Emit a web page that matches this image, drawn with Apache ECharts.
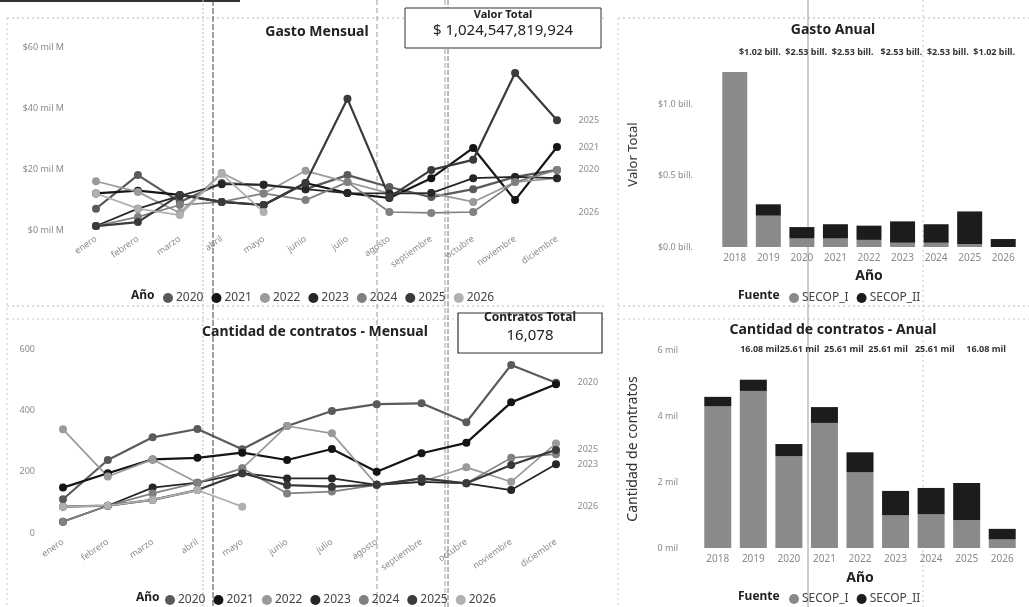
<!DOCTYPE html>
<html>
<head>
<meta charset="utf-8">
<script src="https://cdn.jsdelivr.net/npm/echarts@6/dist/echarts.min.js"></script>
<style>
  html, body { margin: 0; padding: 0; background: #fff; }
  #chart { width: 1029px; height: 607px; }
</style>
</head>
<body>
<div id="chart"></div>
<script>
// categorías
const meses = ['enero', 'febrero', 'marzo', 'abril', 'mayo', 'junio', 'julio', 'agosto', 'septiembre', 'octubre', 'noviembre', 'diciembre']
const anios = ['2020', '2021', '2022', '2023', '2024', '2025', '2026']
const aniosAnual = ['2018', '2019', '2020', '2021', '2022', '2023', '2024', '2025', '2026']
const fuentes = ['SECOP_I', 'SECOP_II']

// Gasto mensual (mil M)
const gasto2020 = [7, 18, 9.2, 15.4, 14.8, 13.4, 18, 14.1, 10.8, 13.4, 17.4, 19.7]
const gasto2021 = [12, 12.9, 11.5, 9.2, 8.2, 15.4, 12.1, 10.5, 17, 26.9, 9.8, 27.2]
const gasto2022 = [16, 12.5, 5.6, 18.7, 12, 19.4, 15.7, 12, 12.1, 9.2, 15.7, 17]
const gasto2023 = [1.3, 7, 11.2, 15, 14.8, 13.4, 12.1, 12, 12.1, 17, 17.4, 17]
const gasto2024 = [1.3, 4.3, 8.2, 9.2, 12, 9.8, 15.7, 5.9, 5.6, 5.9, 15.7, 19.7]
const gasto2025 = [1.3, 2.6, 11.5, 9.2, 8.2, 15.4, 43, 10.8, 19.7, 23, 51.5, 36]
const gasto2026 = [12, 7, 4.9, 18.4, 5.9]

// Cantidad de contratos mensual
const contratos2020 = [110, 238, 312, 339, 273, 349, 398, 420, 423, 361, 548, 490]
const contratos2021 = [148, 195, 240, 245, 262, 238, 274, 200, 260, 294, 426, 485]
const contratos2022 = [338, 184, 240, 164, 211, 349, 325, 157, 167, 214, 167, 292]
const contratos2023 = [37, 89, 148, 164, 195, 178, 178, 157, 167, 162, 140, 224]
const contratos2024 = [37, 89, 129, 164, 211, 129, 135, 157, 178, 162, 245, 257]
const contratos2025 = [86, 89, 108, 140, 195, 156, 151, 157, 178, 162, 222, 271]
const contratos2026 = [86, 89, 108, 140, 86]

// Gasto anual (bill.)
const gastoSecop1 = [1.23, 0.22, 0.06, 0.06, 0.05, 0.03, 0.03, 0.02, 0]
const gastoSecop2 = [0, 0.08, 0.08, 0.10, 0.10, 0.15, 0.13, 0.23, 0.056]

// Contratos anual
const contratosSecop1 = [4300, 4760, 2780, 3790, 2300, 990, 1020, 840, 260]
const contratosSecop2 = [280, 340, 370, 480, 600, 740, 800, 1130, 320]

// textos
const valorTotal = '$ 1,024,547,819,924'
const contratosTotal = '16,078'
const gastoTotales = '$1.02 bill.  $2.53 bill.  $2.53 bill.   $2.53 bill.  $2.53 bill.  $1.02 bill.'
const contratosTotales = '16.08 mil25.61 mil  25.61 mil  25.61 mil   25.61 mil     16.08 mil'
const gastoEtiquetas = ['2020', '2021', '2025', '2026']
const contratosEtiquetas = ['2020', '2023', '2025', '2026']

const gastoMensual = [gasto2020, gasto2021, gasto2022, gasto2023, gasto2024, gasto2025, gasto2026]
const contratosMensual = [contratos2020, contratos2021, contratos2022, contratos2023, contratos2024, contratos2025, contratos2026]

const FONT = 'Noto Sans'
const YEAR_COLORS = ['#5a5a5a', '#151515', '#9a9a9a', '#262626', '#808080', '#3a3a3a', '#b0b0b0']
const FUENTE_COLORS = ['#8a8a8a', '#1c1c1c']
const LABEL_GRAY = '#8a8a8a'

const chart = echarts.init(document.getElementById('chart'), null, { renderer: 'canvas' })

const lineSeries = (valores, axis, etiquetas) => anios.map((anio, i) => {
  const data = valores[i]
  const s = {
    name: anio,
    type: 'line',
    xAxisIndex: axis,
    yAxisIndex: axis,
    data: data,
    symbol: 'circle',
    symbolSize: 8,
    color: YEAR_COLORS[i],
    lineStyle: { width: i === 1 || i === 5 || i === 0 ? 2.2 : 1.7 },
    animation: false,
  }
  if (etiquetas.includes(anio)) {
    s.markPoint = {
      symbol: 'circle',
      symbolSize: 1,
      itemStyle: { color: 'rgba(0,0,0,0)' },
      label: { show: true, position: 'right', distance: 21, formatter: anio, color: LABEL_GRAY, fontSize: 9, fontFamily: FONT },
      data: [{ coord: [meses[11], data[data.length - 1]] }],
    }
  }
  return s
})

const barSeries = (v1, v2, axis, width) => [
  { name: fuentes[0], type: 'bar', stack: 'f' + axis, xAxisIndex: axis, yAxisIndex: axis, data: v1, barWidth: width, color: FUENTE_COLORS[0], animation: false },
  { name: fuentes[1], type: 'bar', stack: 'f' + axis, xAxisIndex: axis, yAxisIndex: axis, data: v2, barWidth: width, color: FUENTE_COLORS[1], animation: false },
]

const monthAxis = (grid) => ({
  type: 'category', gridIndex: grid, data: meses, boundaryGap: false,
  axisLine: { show: false }, axisTick: { show: false },
  axisLabel: { rotate: 35, color: LABEL_GRAY, fontSize: 9, fontFamily: FONT, margin: 8, interval: 0 },
})

const yearAxis = (grid, nameGap) => ({
  type: 'category', gridIndex: grid, data: aniosAnual,
  name: 'Año', nameLocation: 'middle', nameGap: nameGap,
  nameTextStyle: { fontSize: 14, fontWeight: 'bold', color: '#222', fontFamily: FONT },
  axisLine: { show: false }, axisTick: { show: false },
  axisLabel: { color: LABEL_GRAY, fontSize: 10, fontFamily: FONT, margin: 6 },
})

const legendBase = {
  icon: 'circle', itemWidth: 10, itemHeight: 10, itemGap: 8,
  textStyle: { fontSize: 12, color: '#444', fontFamily: FONT, padding: [0, 0, 0, -2] },
}

const dotted = (x1, y1, x2, y2, color, dash, w) => ({
  type: 'line', silent: true,
  shape: { x1, y1, x2, y2 },
  style: { stroke: color, lineWidth: w || 1, lineDash: dash },
})

const option = {
  textStyle: { fontFamily: FONT },
  title: [
    { text: 'Gasto Mensual', left: 312, top: 20, textAlign: 'center', textStyle: { fontSize: 14, fontWeight: 'bold', color: '#222' } },
    { text: 'Cantidad de contratos - Mensual', left: 310, top: 320, textAlign: 'center', textStyle: { fontSize: 14, fontWeight: 'bold', color: '#222' } },
    { text: 'Gasto Anual', left: 828, top: 18, textAlign: 'center', textStyle: { fontSize: 14, fontWeight: 'bold', color: '#222' } },
    { text: gastoTotales, left: 872, top: 43, textAlign: 'center', textStyle: { fontSize: 9, fontWeight: 'bold', color: '#333' } },
    { text: 'Cantidad de contratos - Anual', left: 828, top: 318, textAlign: 'center', textStyle: { fontSize: 14, fontWeight: 'bold', color: '#222' } },
    { text: contratosTotales, left: 868, top: 340, textAlign: 'center', textStyle: { fontSize: 9, fontWeight: 'bold', color: '#333' } },
    { text: 'Año', left: 126, top: 285, textStyle: { fontSize: 12, fontWeight: 'bold', color: '#222' } },
    { text: 'Año', left: 131, top: 587, textStyle: { fontSize: 12, fontWeight: 'bold', color: '#222' } },
    { text: 'Fuente', left: 733, top: 285, textStyle: { fontSize: 12, fontWeight: 'bold', color: '#222' } },
    { text: 'Fuente', left: 733, top: 586, textStyle: { fontSize: 12, fontWeight: 'bold', color: '#222' } },
  ],
  legend: [
    { ...legendBase, data: anios, left: 158, top: 287 },
    { ...legendBase, data: anios, left: 160, top: 589 },
    { ...legendBase, data: fuentes, left: 784, top: 287 },
    { ...legendBase, data: fuentes, left: 784, top: 588 },
  ],
  grid: [
    { left: 96, right: 472, top: 47, bottom: 377 },
    { left: 63, right: 473, top: 349, bottom: 74 },
    { left: 718, right: 9, top: 62, bottom: 360 },
    { left: 700, right: 9, top: 350, bottom: 59 },
  ],
  xAxis: [monthAxis(0), monthAxis(1), yearAxis(2, 22), yearAxis(3, 23)],
  yAxis: [
    {
      type: 'value', gridIndex: 0, min: 0, max: 60, interval: 20, splitLine: { show: false },
      axisLabel: { color: LABEL_GRAY, fontSize: 9, margin: 32, formatter: v => '$' + v + ' mil M' },
    },
    {
      type: 'value', gridIndex: 1, min: 0, max: 600, interval: 200, splitLine: { show: false },
      axisLabel: { color: LABEL_GRAY, fontSize: 9, margin: 28 },
    },
    {
      type: 'value', gridIndex: 2, min: 0, max: 1.3, interval: 0.5, splitLine: { show: false },
      name: 'Valor Total', nameLocation: 'middle', nameGap: 78, nameRotate: 90,
      nameTextStyle: { fontSize: 13, color: '#333', fontFamily: 'Liberation Sans Narrow, ' + FONT },
      axisLabel: { color: LABEL_GRAY, fontSize: 9, margin: 25, showMaxLabel: false, formatter: v => '$' + v.toFixed(1) + ' bill.' },
    },
    {
      type: 'value', gridIndex: 3, min: 0, max: 6000, interval: 2000, splitLine: { show: false },
      name: 'Cantidad de contratos', nameLocation: 'middle', nameGap: 60, nameRotate: 90,
      nameTextStyle: { fontSize: 14, color: '#333', fontFamily: 'Liberation Sans Narrow, ' + FONT },
      axisLabel: { color: LABEL_GRAY, fontSize: 9, margin: 22, formatter: v => (v / 1000) + ' mil' },
    },
  ],
  series: [
    ...lineSeries(gastoMensual, 0, gastoEtiquetas),
    ...lineSeries(contratosMensual, 1, contratosEtiquetas),
    ...barSeries(gastoSecop1, gastoSecop2, 2, 25),
    ...barSeries(contratosSecop1, contratosSecop2, 3, 27),
  ],
  graphic: [
    // bordes de los paneles
    dotted(7, 18, 606, 18, '#b8b8b8', [2, 3]),
    dotted(618, 18, 1029, 18, '#b8b8b8', [2, 3]),
    dotted(7, 18, 7, 607, '#c8c8c8', [2, 3]),
    dotted(618, 18, 618, 607, '#c8c8c8', [2, 3]),
    dotted(7, 306, 606, 306, '#b8b8b8', [2, 3]),
    dotted(7, 319, 606, 319, '#c8c8c8', [2, 3]),
    dotted(618, 306, 1029, 306, '#b8b8b8', [2, 3]),
    dotted(618, 319, 1029, 319, '#c8c8c8', [2, 3]),
    dotted(0, 1, 240, 1, '#333', null, 2),
    // líneas verticales del escaneo
    dotted(203, 0, 203, 607, '#bbb', [2, 2]),
    dotted(213, 0, 213, 607, '#444', [6, 2]),
    dotted(377, 0, 377, 607, '#999', [5, 3]),
    dotted(445, 0, 445, 607, '#999', [5, 2]),
    dotted(448, 0, 448, 607, '#777', [5, 2]),
    dotted(808, 0, 808, 607, '#9a9a9a', null),
    dotted(923, 0, 923, 607, '#c8c8c8', [2, 3]),
    // tarjetas de totales
    { type: 'rect', silent: true, shape: { x: 405, y: 8, width: 196, height: 40 }, style: { fill: '#fff', stroke: '#333', lineWidth: 1 } },
    { type: 'text', silent: true, style: { text: 'Valor Total', x: 503, y: 9, align: 'center', fontSize: 11, fontWeight: 'bold', fill: '#222', fontFamily: FONT } },
    { type: 'text', silent: true, style: { text: valorTotal, x: 503, y: 23, align: 'center', fontSize: 15, fill: '#222', fontFamily: FONT } },
    { type: 'rect', silent: true, shape: { x: 458, y: 313, width: 144, height: 40 }, style: { fill: '#fff', stroke: '#333', lineWidth: 1.2 } },
    { type: 'text', silent: true, style: { text: 'Contratos Total', x: 530, y: 312, align: 'center', fontSize: 12, fontWeight: 'bold', fill: '#222', fontFamily: FONT } },
    { type: 'text', silent: true, style: { text: contratosTotal, x: 530, y: 328, align: 'center', fontSize: 15, fill: '#222', fontFamily: FONT } },
  ],
}

chart.setOption(option)
</script>
</body>
</html>
